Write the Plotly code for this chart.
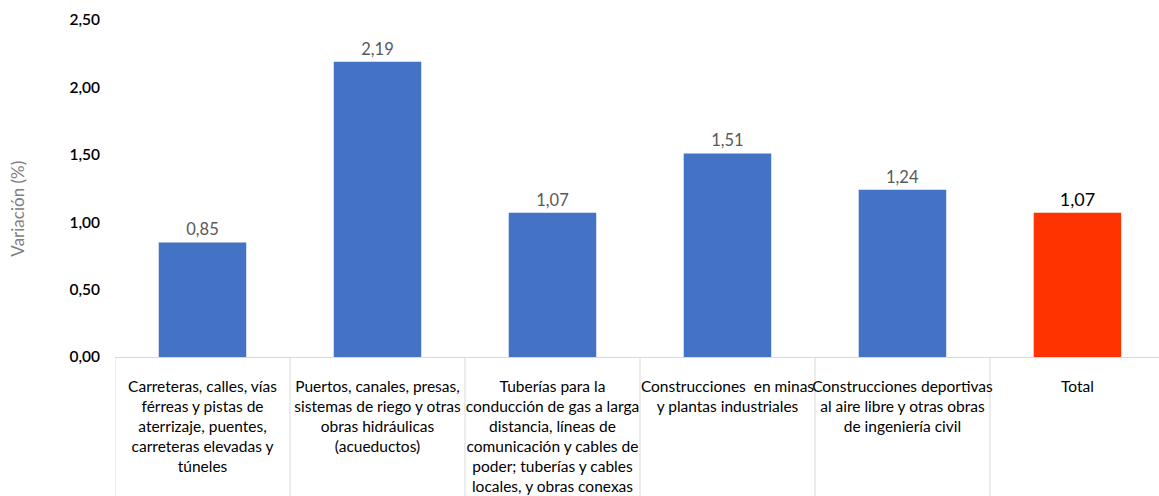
import plotly.graph_objects as go

# Categories of civil-engineering works and their price variation (%)
categories = [
    "Carreteras, calles, vías<br>férreas y pistas de<br>aterrizaje, puentes,<br>carreteras elevadas y<br>túneles",
    "Puertos, canales, presas,<br>sistemas de riego y otras<br>obras hidráulicas<br>(acueductos)",
    "Tuberías para la<br>conducción de gas a larga<br>distancia, líneas de<br>comunicación y cables de<br>poder; tuberías y cables<br>locales, y obras conexas",
    "Construcciones  en minas<br>y plantas industriales",
    "Construcciones deportivas<br>al aire libre y otras obras<br>de ingeniería civil",
    "Total",
]
values = [0.85, 2.19, 1.07, 1.51, 1.24, 1.07]
y_ticks = [0, 0.5, 1.0, 1.5, 2.0, 2.5]
y_title = "Variación (%)"

BLUE = "#4472C4"
RED = "#FF3300"
bar_colors = [BLUE] * (len(values) - 1) + [RED]
label_colors = ["#595959"] * (len(values) - 1) + ["#000000"]
label_sizes = [16.5] * (len(values) - 1) + [18]

FONT = "Lato, 'Open Sans', sans-serif"

fig = go.Figure(
    go.Bar(
        x=list(range(len(values))),
        y=values,
        marker=dict(color=bar_colors, line=dict(width=0)),
        width=0.5,
        text=values,
        texttemplate="%{y:.2f}",
        textposition="outside",
        cliponaxis=False,
        textfont=dict(family=FONT, color=label_colors, size=label_sizes),
        hoverinfo="skip",
    )
)

# Light grey separators between category labels, running below the axis
n_cat = len(categories)
for i in range(n_cat):
    fig.add_shape(
        type="line",
        xref="x",
        yref="paper",
        x0=i - 0.5,
        x1=i - 0.5,
        y0=0,
        y1=-0.45,
        line=dict(color="#D9D9D9", width=1),
        layer="below",
    )

# Vertical axis title, set a little below the middle of the plot
fig.add_annotation(
    text=y_title,
    xref="paper",
    yref="paper",
    x=-0.093,
    y=0.44,
    xanchor="center",
    yanchor="middle",
    textangle=-90,
    showarrow=False,
    font=dict(family=FONT, size=17, color="#808080"),
)

fig.update_layout(
    width=1159,
    height=496,
    margin=dict(l=115, r=0, t=20, b=139),
    paper_bgcolor="white",
    plot_bgcolor="white",
    separators=",.",
    showlegend=False,
    font=dict(family=FONT, color="#000000"),
    bargap=0.5,
)

fig.update_xaxes(
    tickmode="array",
    tickvals=list(range(n_cat)),
    ticktext=categories,
    tickangle=0,
    range=[-0.5, 5.466],
    showline=True,
    linecolor="#D9D9D9",
    linewidth=1,
    showgrid=False,
    ticks="",
    ticklabelstandoff=15,
    tickfont=dict(family=FONT, size=15.5, color="#000000"),
    automargin=False,
)

fig.update_yaxes(
    range=[0, 2.5],
    tickmode="array",
    tickvals=y_ticks,
    tickformat=".2f",
    showgrid=False,
    zeroline=False,
    showline=False,
    ticks="",
    ticklabelstandoff=14,
    tickfont=dict(family=FONT, size=15.5, color="#000000", weight=600),
    automargin=False,
)

fig.write_html("out.html")
